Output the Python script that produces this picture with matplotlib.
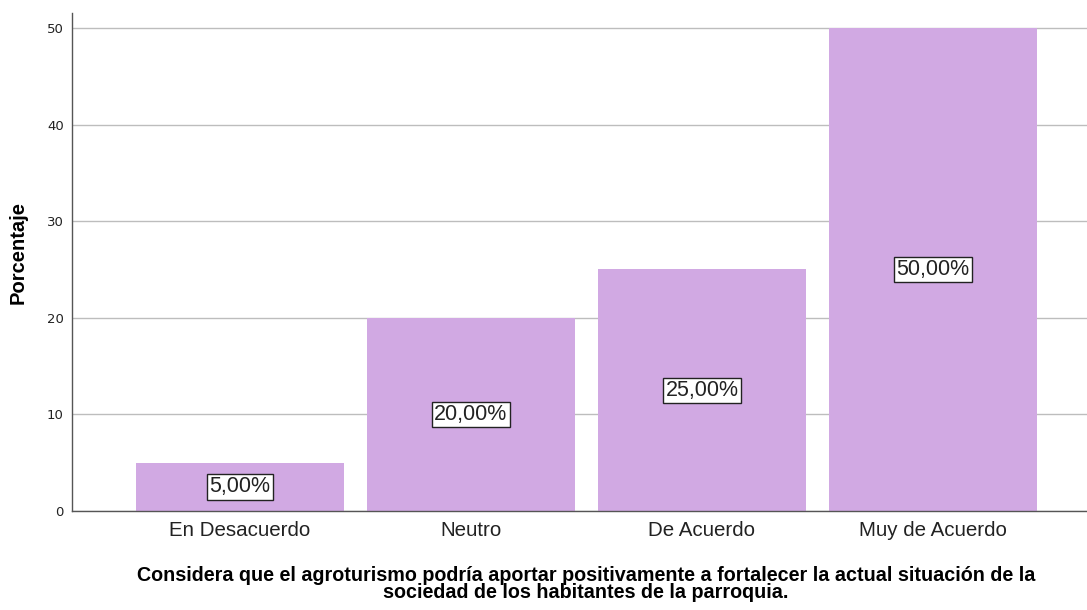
import matplotlib
matplotlib.use("Agg")
import matplotlib.pyplot as plt

categories = ["En Desacuerdo", "Neutro", "De Acuerdo", "Muy de Acuerdo"]
values = [5.0, 20.0, 25.0, 50.0]
labels = ["5,00%", "20,00%", "25,00%", "50,00%"]
yticks = [0, 10, 20, 30, 40, 50]
xlabel = ("Considera que el agroturismo podría aportar positivamente a fortalecer la actual situación de la\n"
          "sociedad de los habitantes de la parroquia.")
ylabel = "Porcentaje"

fig = plt.figure(figsize=(10.87, 6.10), dpi=100)
ax = fig.add_axes([72/1087, 1-511/610, 1-72/1087, (511-13)/610])

x = list(range(len(categories)))
ax.bar(x, values, width=0.9, color="#D1A9E3", zorder=2)
ax.set_xlim(-0.727, 3.667)
ax.set_ylim(0, 51.55)
ax.set_yticks(yticks)
ax.set_yticklabels([str(t) for t in yticks], fontsize=9.5, color="#222222")
ax.set_xticks(x)
ax.set_xticklabels(categories, fontsize=14.8, family="Liberation Sans", color="#222222")
ax.tick_params(axis="x", length=0, pad=7)
ax.tick_params(axis="y", length=0, pad=6)
ax.yaxis.grid(True, color="#BDBDBD", linewidth=1, zorder=0)
ax.set_axisbelow(True)
for s in ["top", "right"]:
    ax.spines[s].set_visible(False)
for s in ["left", "bottom"]:
    ax.spines[s].set_color("#555555")
    ax.spines[s].set_linewidth(1)

for xi, v, lab in zip(x, values, labels):
    ax.text(xi, v / 2, lab, ha="center", va="center", fontsize=15.5,
            family="Liberation Sans", color="#222222", zorder=4,
            bbox=dict(boxstyle="square,pad=0.1", facecolor="white", edgecolor="#222222", linewidth=1))

ax.set_xlabel(xlabel, fontsize=14.2, fontweight="bold", family="Liberation Sans",
              linespacing=0.9)
ax.xaxis.set_label_coords((586 - 72) / (1087 - 72), -(584 - 511) / (511 - 13))
ax.xaxis.label.set_va("center")
ax.set_ylabel(ylabel, fontsize=14.5, fontweight="bold", family="Liberation Sans")
ax.yaxis.set_label_coords(-(72 - 18) / (1087 - 72), (511 - 252) / (511 - 13))
ax.yaxis.label.set_va("center")

fig.savefig("out.png", dpi=100)
